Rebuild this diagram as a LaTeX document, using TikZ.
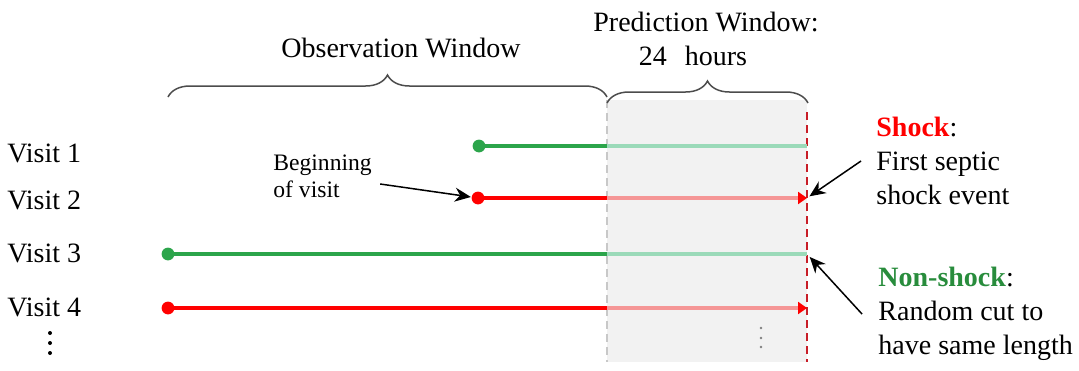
\documentclass[tikz,border=0pt]{standalone}
\usepackage{fontspec}
\setmainfont{Liberation Serif}
\usetikzlibrary{arrows.meta, calc, decorations.pathreplacing}
\definecolor{greenobs}{RGB}{44,165,75}
\definecolor{greenpred}{RGB}{155,218,185}
\definecolor{redobs}{RGB}{255,0,0}
\definecolor{redpred}{RGB}{245,150,150}
\definecolor{cutred}{RGB}{200,30,40}
\definecolor{cutgray}{RGB}{200,200,200}
\definecolor{boxgray}{RGB}{242,242,242}
\definecolor{nsgreen}{RGB}{40,140,60}

\begin{document}
\begin{tikzpicture}[x=0.5pt, y=-0.5pt, >=Stealth,
  every node/.style={font=\fontsize{14}{17}\selectfont, inner sep=0pt},
  visitlbl/.style={anchor=west},
  greenobsline/.style={greenobs, line width=1.7pt},
  greenpredline/.style={greenpred, line width=1.7pt},
  redobsline/.style={redobs, line width=1.7pt},
  redpredline/.style={redpred, line width=1.7pt, -{Triangle[length=4.5pt, width=6pt, color=redobs]}},
  annot/.style={line width=0.75pt, -{Stealth[length=8pt, width=7pt]}},
  winbrace/.style={decorate, draw=black!70, line width=0.75pt,
    decoration={brace, amplitude=11pt, aspect=0.5}}]
  \useasboundingbox (0,0) rectangle (1079,370);

  % prediction window
  \fill[boxgray] (607,100) rectangle (807,362);
  \draw[cutgray, line width=1pt, dash pattern=on 4pt off 2.5pt] (607,100) -- (607,362);
  \draw[cutred, line width=1pt, dash pattern=on 4pt off 2.5pt] (807,112) -- (807,362);

  % visits
  \foreach \i/\y/\xs/\col/\ly in {1/146/479/green/153, 2/198/478/red/200,
                                   3/254/168/green/253, 4/308/168/red/307} {
    \node[visitlbl] (visit\i) at (7,\ly) {Visit \i};
    \coordinate (v\i s) at (\xs,\y);
    \coordinate (v\i c) at (607,\y);
    \coordinate (v\i e) at (807,\y);
    \draw[\col predline] (v\i c) -- (v\i e);
    \draw[\col obsline] (v\i s) -- (v\i c);
    \fill[\col obs] (v\i s) circle (3.2pt);
  }
  % more visits
  \foreach \y in {333,343,353} \fill (50,\y) circle (1pt);
  \foreach \y in {328,338,347} \fill[gray] (761,\y) circle (0.7pt);

  % windows
  \draw[winbrace] (168,97) -- (607,97);
  \draw[winbrace] (607,103) -- (808,103);
  \node (obslbl) at (401,48) {Observation Window};
  \node (predlbl) at (706,22) {Prediction Window:};
  \node (hourslbl) at (693,56) {24\hspace{9pt}hours};

  % annotations
  \node[anchor=west, align=left, font=\fontsize{11.8}{13.5}\selectfont] (beginlbl) at (273,176) {Beginning\\of visit};
  \draw[annot, shorten >=3.6pt] ([shift={(4pt,-4pt)}]beginlbl.east) -- (v2s);

  \node[anchor=west, align=left] (shocklbl) at (876,161)
    {\textcolor{redobs}{\textbf{Shock}}:\\First septic\\shock event};
  \draw[annot, shorten >=1.5pt] ([xshift=-7.5pt]shocklbl.west) -- (v2e);

  \node[anchor=west, align=left] (nslbl) at (878,314)
    {\textcolor{nsgreen}{\textbf{Non-shock}}:\\Random cut to\\have same length};
  \draw[annot, shorten >=2pt] ([xshift=-8pt]nslbl.west) -- (v3e);
\end{tikzpicture}
\end{document}
